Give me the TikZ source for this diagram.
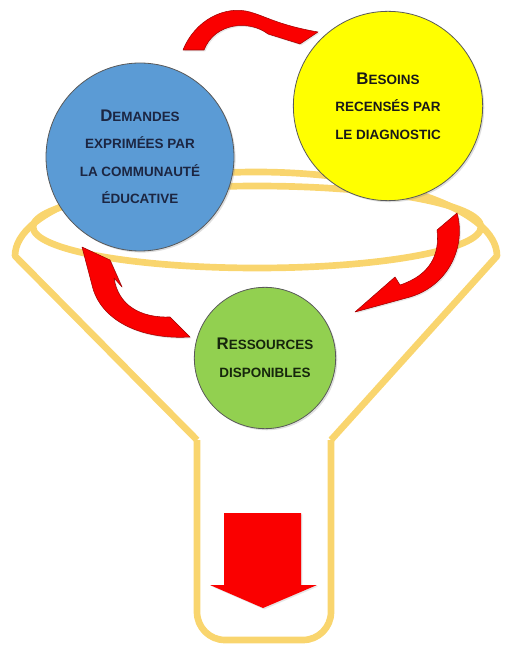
\documentclass[tikz,border=0pt]{standalone}
\usepackage{fontspec}
\setmainfont{Liberation Sans}
\usetikzlibrary{shadows}
\definecolor{funnelgold}{RGB}{249,213,110}
\definecolor{demblue}{RGB}{91,155,213}
\definecolor{besyellow}{RGB}{255,255,0}
\definecolor{resgreen}{RGB}{146,208,80}
\definecolor{arrowred}{RGB}{250,0,0}
\definecolor{arrowdark}{RGB}{160,0,0}
\definecolor{navytext}{RGB}{28,38,66}
\definecolor{greentext}{RGB}{22,38,12}
\newcommand{\capword}[2]{{\fontsize{12.6}{14}\selectfont #1}#2}

\begin{document}
\begin{tikzpicture}[x=0.75pt, y=-0.75pt,
      funnel/.style={draw=funnelgold, line width=5pt, line join=round},
      bubble/.style={circle, draw=black!65, line width=0.6pt, align=center, inner sep=0pt,
         font=\bfseries\fontsize{10.1}{20.6}\selectfont,
         drop shadow={opacity=0.25, shadow xshift=1.2pt, shadow yshift=-1.2pt}},
      bentarrow/.style={fill=arrowred, draw=arrowdark, line width=0.4pt, line join=round,
         drop shadow={opacity=0.2, shadow xshift=1pt, shadow yshift=-1pt}}]
      \useasboundingbox (0,0) rectangle (504,645);

      \draw[funnel] (197,440) -- (15,256) arc[start angle=180, end angle=360, x radius=241, y radius=84]
         -- (331,440);
      \draw[funnel] (197,440) [rounded corners=21pt] -- (197,640) -- (331,640) [sharp corners] -- (331,440);
      \draw[funnel] (257,227) ellipse[x radius=224, y radius=41];

      \node[bubble, fill=demblue, text=navytext, minimum size=141pt] (demandes) at (140,157)
         {\capword{D}{EMANDES}\\EXPRIMÉES PAR\\LA COMMUNAUTÉ\\ÉDUCATIVE};
      \node[bubble, fill=besyellow, text=black!90, minimum size=142pt] (besoins) at (388,106)
         {\capword{B}{ESOINS}\\RECENSÉS PAR\\LE DIAGNOSTIC};
      \node[bubble, fill=resgreen, text=greentext, minimum size=106pt] (ressources) at (265,358)
         {\capword{R}{ESSOURCES}\\DISPONIBLES};

      \draw[bentarrow] (183,50) .. controls (195,20) and (225,5) .. (250,12)
         .. controls (265,16) and (278,25) .. (318,32) -- (300,44) -- (268,34)
         .. controls (250,20) and (215,22) .. (204,50) -- cycle;
      \draw[bentarrow] (457,213) .. controls (466,245) and (450,285) .. (410,297)
         -- (355,312) -- (395,277) -- (400,285)
         .. controls (430,275) and (440,255) .. (437,230) -- cycle;
      \draw[bentarrow] (82,247) -- (110,260) -- (122,287) -- (114,278)
         .. controls (118,305) and (140,318) .. (170,317) -- (190,337)
         .. controls (140,340) and (100,320) .. (92,285) -- cycle;
      \fill[arrowred, drop shadow={opacity=0.2, shadow xshift=1pt, shadow yshift=-1pt}]
         (224,513) -- (301,513) -- (301,585) -- (317,585) -- (263,608) -- (210,585) -- (224,585) -- cycle;
\end{tikzpicture}
\end{document}
